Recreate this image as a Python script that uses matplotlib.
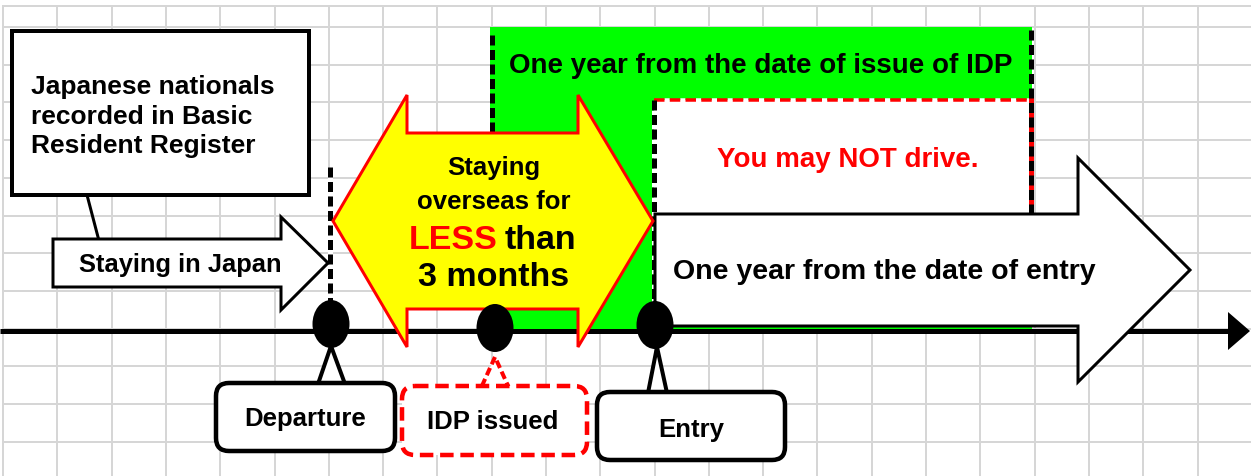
import matplotlib
matplotlib.use('Agg')
import matplotlib.pyplot as plt
from matplotlib.patches import Polygon, Rectangle, Ellipse, FancyBboxPatch

plt.rcParams['font.family'] = ['Liberation Sans', 'DejaVu Sans']
plt.rcParams['font.weight'] = 'bold'

# timeline events
events = ['Departure', 'IDP issued', 'Entry']
event_x = [331, 495, 655]

callout_lines = ['Japanese nationals', 'recorded in Basic', 'Resident Register']
stay_japan = 'Staying in Japan'
overseas_lines = ['Staying', 'overseas for']
less_word, less_rest = 'LESS', 'than'
months_text = '3 months'
idp_period = 'One year from the date of issue of IDP'
no_drive = 'You may NOT drive.'
entry_period = 'One year from the date of entry'

W, H = 1251, 476
PX = 0.72  # points per pixel at dpi 100

fig = plt.figure(figsize=(W / 100, H / 100), dpi=100)
ax = fig.add_axes([0, 0, 1, 1])
ax.set_xlim(0, W)
ax.set_ylim(H, 0)
ax.axis('off')

GRID = '#d6d6d6'
GREEN = '#00ff00'
RED = '#ff0000'

# background grid
gx = 3
while gx < W + 5:
    ax.plot([gx, gx], [6, H], color=GRID, lw=2 * PX, zorder=0)
    gx += 54.3
gy = 27
while gy < H:
    ax.plot([3, W], [gy, gy], color=GRID, lw=2 * PX, zorder=0)
    gy += 37.7
ax.plot([3, W], [6, 6], color=GRID, lw=2 * PX, zorder=0)

# green period of IDP validity
ax.add_patch(Rectangle((490, 27), 542, 304, fc=GREEN, ec='none', zorder=1))

# white "may not drive" box
ax.add_patch(Rectangle((654, 100), 376, 114, fc='white', ec='none', zorder=2))
ax.plot([654, 1030], [100, 100], color=RED, lw=3.5 * PX, ls=(0, (3, 1.5)),
        gapcolor='white', zorder=3)
ax.plot([1031, 1031], [100, 214], color=RED, lw=5 * PX, zorder=3)

dash = (0, (2.0, 0.9))
ax.plot([492, 492], [35, 331], color='black', lw=5 * PX, ls=dash, zorder=3)
ax.plot([1031, 1031], [30, 214], color='black', lw=5 * PX, ls=dash, zorder=4)
ax.plot([654, 654], [100, 305], color='black', lw=5 * PX, ls=dash, gapcolor='white', zorder=4)
ax.plot([330, 330], [167, 305], color='black', lw=5 * PX, ls=dash, gapcolor='white', zorder=4)

# main timeline
ax.plot([0, 1232], [331, 331], color='black', lw=5 * PX, zorder=5, solid_capstyle='butt')
ax.add_patch(Polygon([(1228, 312), (1250, 331), (1228, 350)], closed=True, fc='black', ec='none', zorder=5))

# big arrow: one year from entry
ax.add_patch(Polygon([(655, 214), (1078, 214), (1078, 158), (1190, 270), (1078, 382),
                      (1078, 326), (655, 326)], closed=True, fc='white', ec='black',
                     lw=3 * PX, zorder=6, joinstyle='miter'))

# staying in Japan arrow
ax.add_patch(Polygon([(53, 239), (281, 239), (281, 217), (328, 263), (281, 310),
                      (281, 287), (53, 287)], closed=True, fc='white', ec='black',
                     lw=3 * PX, zorder=6, joinstyle='miter'))

# yellow double arrow
ax.add_patch(Polygon([(333, 221), (407, 95), (407, 133), (578, 133), (578, 95), (653, 221),
                      (578, 347), (578, 309), (407, 309), (407, 347)], closed=True,
                     fc='#ffff00', ec=RED, lw=3 * PX, zorder=7, joinstyle='miter'))

# callout box
ax.add_patch(Rectangle((12, 31), 297, 164, fc='white', ec='black', lw=4 * PX, zorder=6))
ax.plot([87, 98], [195, 237], color='black', lw=3 * PX, zorder=5)

# event markers
event_y = [324, 328, 325]
for x, y in zip(event_x, event_y):
    ax.add_patch(Ellipse((x, y), 37, 48, fc='black', ec='none', zorder=9))

# connectors
ax.add_patch(Polygon([(331, 346), (318, 384), (345, 384)], closed=True, fc='white', ec='black',
                     lw=4 * PX, zorder=8))
ax.add_patch(Polygon([(495, 357), (481, 388), (509, 388)], closed=True, fc='white', ec=RED,
                     lw=4 * PX, ls=(0, (2, 1)), zorder=8))
ax.add_patch(Polygon([(657, 347), (648, 393), (667, 393)], closed=True, fc='white', ec='black',
                     lw=4 * PX, zorder=8))

# label boxes
boxes = [(216, 383, 179, 68, 'black', '-'),
         (402, 386, 185, 69, RED, (0, (3, 1.5))),
         (597, 392, 188, 68, 'black', '-')]
for (bx, by, bw, bh, col, ls) in boxes:
    ax.add_patch(FancyBboxPatch((bx, by), bw, bh, boxstyle='round,pad=0,rounding_size=13',
                                fc='white', ec=col, lw=4.5 * PX, ls=ls, zorder=10))

label_pos = [(305, 426), (493, 429), (691, 437)]
for name, (lx, ly) in zip(events, label_pos):
    ax.text(lx, ly, name, ha='center', va='baseline', fontsize=18.5, zorder=11)

# texts
for i, line in enumerate(callout_lines):
    ax.text(31, 94 + 29.5 * i, line, ha='left', va='baseline', fontsize=19, zorder=11)

ax.text(180, 272, stay_japan, ha='center', va='baseline', fontsize=18.4, zorder=11)

ax.text(494, 175, overseas_lines[0], ha='center', va='baseline', fontsize=18.5, zorder=11)
ax.text(494, 209, overseas_lines[1], ha='center', va='baseline', fontsize=18.5, zorder=11)
ax.text(498, 249, less_word, ha='right', va='baseline', fontsize=24.5, color=RED, zorder=11)
ax.text(505, 249, less_rest, ha='left', va='baseline', fontsize=24.5, zorder=11)
ax.text(494, 286, months_text, ha='center', va='baseline', fontsize=24.5, zorder=11)

ax.text(761, 73, idp_period, ha='center', va='baseline', fontsize=20, zorder=11)
ax.text(848, 167, no_drive, ha='center', va='baseline', fontsize=20, color=RED, zorder=11)
ax.text(673, 279, entry_period, ha='left', va='baseline', fontsize=20.5, zorder=11)

fig.savefig('out.png', dpi=100)
